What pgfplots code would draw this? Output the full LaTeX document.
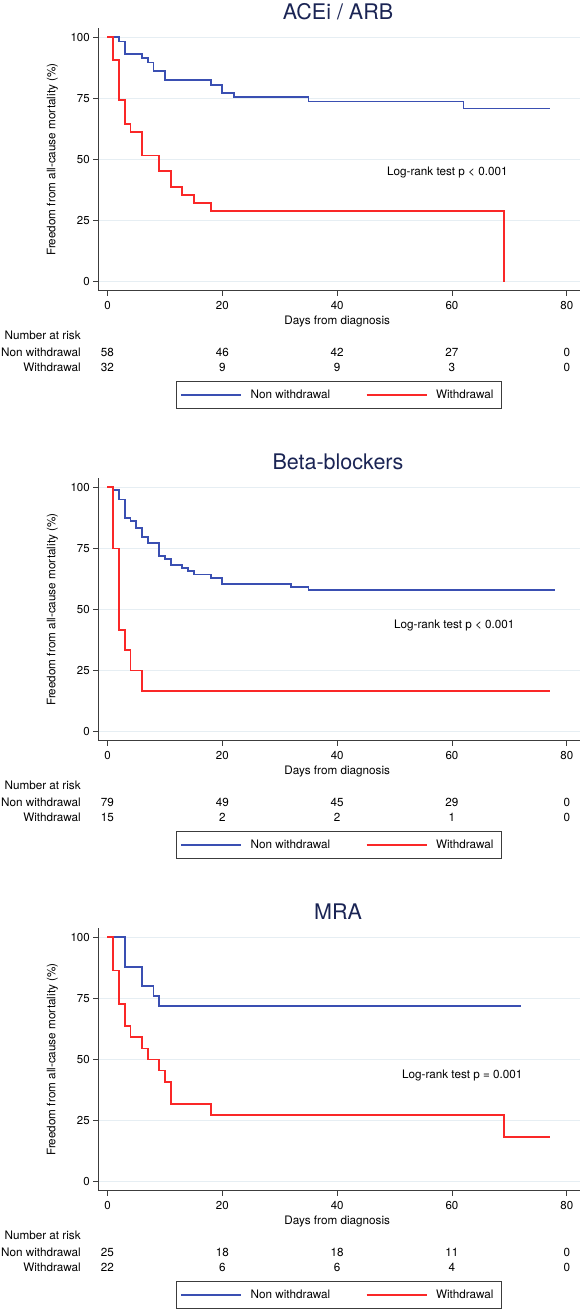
\documentclass[border=0pt]{standalone}
\usepackage{fontspec}
\setmainfont{TeX Gyre Heros}
\usepackage{pgfplots}
\pgfplotsset{compat=1.18}
\usepackage{pgfplotstable}

\definecolor{kmblue}{RGB}{58,79,178}
\definecolor{kmred}{RGB}{250,40,40}
\definecolor{ttl}{RGB}{26,36,84}
\definecolor{grd}{RGB}{230,238,243}
\definecolor{axc}{RGB}{60,60,60}
\newcommand\tf{\fontsize{11.7}{14}\selectfont}

% ACEi / ARB
\pgfplotstableread{
x y
0 100
2 98.3
3 93.1
6 91.4
7 89.7
8 86.1
10 82.6
18 80.6
20 77.2
22 75.5
35 73.7
62 70.9
77 70.9
}\aceblue
\pgfplotstableread{
x y
0 100
1 90.6
2 74.2
3 64.5
4 61.3
6 51.6
9 45.2
11 38.7
13 35.5
15 32.3
18 29.0
69 0
}\acered
% Beta-blockers
\pgfplotstableread{
x y
0 100
1 98.8
2 95.0
3 87.3
4 86.1
5 83.5
6 79.6
7 77.1
9 72.0
10 70.8
11 68.2
13 66.9
14 65.6
15 64.3
18 63.0
20 60.5
32 59.2
35 57.9
78 57.9
}\betablue
\pgfplotstableread{
x y
0 100
1 75.0
2 41.7
3 33.3
4 25.0
6 16.7
77 16.7
}\betared
% MRA
\pgfplotstableread{
x y
0 100
3 88
6 80
8 76
9 72
72 72
}\mrablue
\pgfplotstableread{
x y
0 100
1 86.4
2 72.7
3 63.6
4 59.1
6 54.5
7 50.0
9 45.5
10 40.9
11 31.8
18 27.3
69 18.2
77 18.2
}\mrared

\pgfplotsset{
 every axis title shift=0pt,
 km/.style={
  scale only axis, width=481.7pt, height=262.4pt,
  anchor=south west,
  xmin=-1.6, xmax=82.3, ymin=-3.7, ymax=103.7,
  axis x line*=bottom, axis y line*=left,
  axis line style={axc, line width=0.8pt, -},
  xtick={0,20,40,60,80}, ytick={0,25,50,75,100},
  tick style={axc, line width=0.8pt},
  major tick length=5pt, tick align=outside,
  ymajorgrids, grid style={grd, line width=0.8pt},
  ticklabel style={font=\fontsize{11.5}{13}\selectfont},
  xticklabel style={yshift=-2.5pt},
  /pgf/number format/assume math mode=true,
  xlabel={Days from diagnosis},
  ylabel={Freedom from all-cause mortality (\%)},
  label style={font=\tf},
  xlabel style={at={(axis description cs:0.496,-0.1155)}, anchor=center},
  ylabel style={at={(axis description cs:-0.0953,0.5)}, anchor=center},
  title style={at={(axis description cs:0.4976,1.0343)}, anchor=base,
    font=\fontsize{21.5}{25}\selectfont, text=ttl},
  clip=false,
  legend style={at={(axis description cs:0.1613,-0.343)}, anchor=north west,
    draw=axc, line width=0.8pt, legend columns=2, font=\tf,
    inner xsep=4pt, inner ysep=6.5pt,
    /tikz/every even column/.append style={column sep=31pt},
    nodes={inner xsep=4.5pt}},
  legend cell align=left,
  legend image code/.code={\draw[#1] (0pt,0pt) -- (60pt,0pt); \path (64pt,0pt);},
 },
 bl/.style={const plot, color=kmblue, line width=1.8pt, no marks},
 rd/.style={const plot, color=kmred, line width=1.8pt, no marks},
}

\newcommand\risktable{%
  \node[anchor=base east, font=\tf] at (axis cs:-4.05,-23.57) {Number at risk};
  \node[anchor=base east, font=\tf] at (axis cs:-4.05,-30.6) {Non withdrawal};
  \node[anchor=base east, font=\tf] at (axis cs:-4.05,-36.74) {Withdrawal};
}
\newcommand\riskrow[6]{%
  \node[anchor=base, font=\tf] at (axis cs:0,#1) {#2};
  \node[anchor=base, font=\tf] at (axis cs:20,#1) {#3};
  \node[anchor=base, font=\tf] at (axis cs:40,#1) {#4};
  \node[anchor=base, font=\tf] at (axis cs:60,#1) {#5};
  \node[anchor=base, font=\tf] at (axis cs:80,#1) {#6};
}

\begin{document}
\begin{tikzpicture}
\path[use as bounding box] (0pt,0pt) rectangle (583pt,-1316pt);

% Panel 1
\begin{axis}[km, at={(98.3pt,-290.7pt)}, title={ACEi / ARB}]
\addplot[bl] table {\aceblue};
\addplot[rd] table {\acered};
\legend{Non withdrawal,Withdrawal}
\node[anchor=center, font=\tf] at (axis cs:59.2,44.8) {Log-rank test p < 0.001};
\risktable
\riskrow{-30.6}{58}{46}{42}{27}{0}
\riskrow{-36.74}{32}{9}{9}{3}{0}
\end{axis}

% Panel 2
\begin{axis}[km, at={(98.3pt,-740.7pt)}, title={Beta-blockers}]
\addplot[bl] table {\betablue};
\addplot[rd] table {\betared};
\legend{Non withdrawal,Withdrawal}
\node[anchor=center, font=\tf] at (axis cs:60.4,43.4) {Log-rank test p < 0.001};
\risktable
\riskrow{-30.6}{79}{49}{45}{29}{0}
\riskrow{-36.74}{15}{2}{2}{1}{0}
\end{axis}

% Panel 3
\begin{axis}[km, at={(98.3pt,-1190.7pt)}, title={MRA}]
\addplot[bl] table {\mrablue};
\addplot[rd] table {\mrared};
\legend{Non withdrawal,Withdrawal}
\node[anchor=center, font=\tf] at (axis cs:61.8,43.6) {Log-rank test p = 0.001};
\risktable
\riskrow{-30.6}{25}{18}{18}{11}{0}
\riskrow{-36.74}{22}{6}{6}{4}{0}
\end{axis}
\end{tikzpicture}
\end{document}
